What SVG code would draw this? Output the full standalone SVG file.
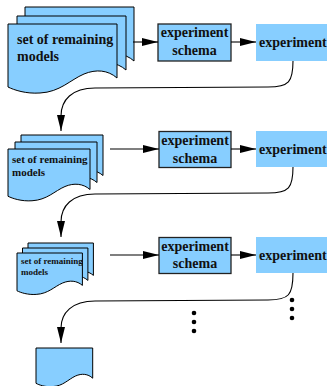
<svg xmlns="http://www.w3.org/2000/svg" width="327" height="386" viewBox="0 0 327 386">
  <style>
    .doc { fill: #87ceff; stroke: #000; stroke-width: 1; stroke-linejoin: miter; }
    .schema { fill: #87ceff; stroke: #222; stroke-width: 1.3; }
    .exp { fill: #87ceff; stroke: none; }
    .lbl { font-family: "Liberation Serif", "Times New Roman", serif; font-weight: bold; fill: #111; }
    .mid { text-anchor: middle; }
    .edge { fill: none; stroke: #000; stroke-width: 1.1; marker-end: url(#head); }
    .dot { fill: #000; }
  </style>
  <defs>
    <marker id="head" markerUnits="userSpaceOnUse" markerWidth="16" markerHeight="8" refX="16" refY="4" orient="auto">
      <path d="M0,0 L16,4 L0,8 Z" fill="#000"/>
    </marker>
  </defs>

  <!-- first stack of model documents -->
  <g id="models-1">
    <path class="doc" d="M25,7 H134 V61 C125,53 113,52 101,57 C87,63 77,75 57,76 C43,77 31,73 25,70 Z"/>
    <path class="doc" d="M17,16 H126 V70 C117,62 105,61 93,66 C79,72 69,84 49,85 C35,86 23,82 17,79 Z"/>
    <path class="doc" d="M8,24 H117 V78 C108,70 96,69 84,74 C70,80 60,92 40,93 C26,94 14,90 8,87 Z"/>
    <text class="lbl" x="17" y="44" font-size="14">set of remaining</text>
    <text class="lbl" x="17" y="61" font-size="14">models</text>
  </g>
  <g id="schema-1">
    <rect class="schema" x="158" y="24" width="73" height="37"/>
    <text class="lbl mid" x="194.5" y="37" font-size="14">experiment</text>
    <text class="lbl mid" x="194.5" y="55" font-size="14">schema</text>
  </g>
  <g id="experiment-1">
    <rect class="exp" x="256" y="24" width="71" height="37"/>
    <text class="lbl" x="259" y="47" font-size="14">experiment</text>
  </g>

  <!-- second stack -->
  <g id="models-2">
    <path class="doc" d="M21,135 H103 V175.5 C96,169.5 87,168.75 78,172.5 C67.5,177 60,186 45,186.75 C34.5,187.5 25.5,184.5 21,182.25 Z"/>
    <path class="doc" d="M15,142 H97 V182.5 C90,176.5 81,175.75 72,179.5 C61.5,184 54,193 39,193.75 C28.5,194.5 19.5,191.5 15,189.25 Z"/>
    <path class="doc" d="M8,149 H90 V189.5 C83,183.5 74,182.75 65,186.5 C54.5,191 47,200 32,200.75 C21.5,201.5 12.5,198.5 8,196.25 Z"/>
    <text class="lbl" x="12" y="163" font-size="11">set of remaining</text>
    <text class="lbl" x="12" y="176" font-size="11">models</text>
  </g>
  <g id="schema-2">
    <rect class="schema" x="159" y="131.5" width="72" height="36"/>
    <text class="lbl mid" x="195" y="145" font-size="14">experiment</text>
    <text class="lbl mid" x="195" y="163" font-size="14">schema</text>
  </g>
  <g id="experiment-2">
    <rect class="exp" x="256" y="131" width="71" height="36"/>
    <text class="lbl" x="259" y="154" font-size="14">experiment</text>
  </g>

  <!-- third stack -->
  <g id="models-3">
    <path class="doc" d="M28,243 H93.4 V275.4 C88,270.6 80.8,270 73.6,273 C65.2,276.6 59.2,283.8 47.2,284.4 C38.8,285 31.6,282.6 28,280.8 Z"/>
    <path class="doc" d="M22.5,248 H87.9 V280.4 C82.5,275.6 75.3,275 68.1,278 C59.7,281.6 53.7,288.8 41.7,289.4 C33.3,290 26.1,287.6 22.5,285.8 Z"/>
    <path class="doc" d="M17,253 H82.4 V285.4 C77,280.6 69.8,280 62.6,283 C54.2,286.6 48.2,293.8 36.2,294.4 C27.8,295 20.6,292.6 17,290.8 Z"/>
    <text class="lbl" x="21" y="264" font-size="9">set of remaining</text>
    <text class="lbl" x="21" y="275" font-size="9">models</text>
  </g>
  <g id="schema-3">
    <rect class="schema" x="159" y="237.5" width="72" height="36"/>
    <text class="lbl mid" x="195" y="251" font-size="14">experiment</text>
    <text class="lbl mid" x="195" y="268" font-size="14">schema</text>
  </g>
  <g id="experiment-3">
    <rect class="exp" x="256" y="237" width="71" height="36"/>
    <text class="lbl" x="259" y="259.5" font-size="14">experiment</text>
  </g>

  <!-- last, single document -->
  <g id="models-4">
    <path class="doc" d="M36,348 H92.7 V378.2 C88,373.8 81.8,373.2 75.5,376 C68.2,379.4 63,386.1 52.6,386.6 C45.4,387.2 39.1,385 36,383.3 Z"/>
  </g>

  <!-- continuation dots -->
  <g id="ellipsis">
    <circle class="dot" cx="194" cy="313" r="2.3"/>
    <circle class="dot" cx="194" cy="322" r="2.3"/>
    <circle class="dot" cx="194" cy="331" r="2.3"/>
    <circle class="dot" cx="292" cy="300" r="2.3"/>
    <circle class="dot" cx="292" cy="309" r="2.3"/>
    <circle class="dot" cx="292" cy="318" r="2.3"/>
  </g>

  <g id="connectors">
    <path class="edge" d="M133,42 L158,42"/>
    <path class="edge" d="M231,42 L256,42"/>
    <path class="edge" d="M293,61 C293,82 289,87 268,87 L95,88 C72,88 61,100 61,116 L61,131"/>
    <path class="edge" d="M110,149 L159,149"/>
    <path class="edge" d="M231,149 L256,149"/>
    <path class="edge" d="M293,167 C293,188 289,193 268,193 L95,194 C72,194 61,206 61,222 L61,237"/>
    <path class="edge" d="M110,255 L159,255"/>
    <path class="edge" d="M231,255 L256,255"/>
    <path class="edge" d="M293,273 C293,295 289,300 268,300 L95,301 C72,301 61,313 61,328 L61,343"/>
  </g>
</svg>
